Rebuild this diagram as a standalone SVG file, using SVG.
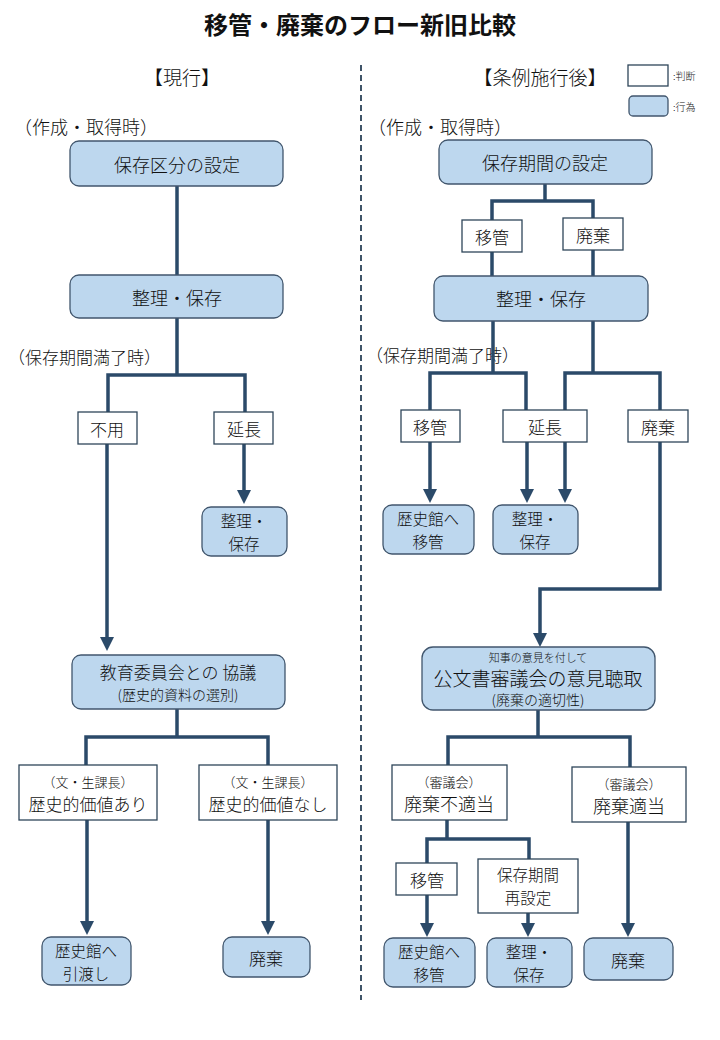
<svg xmlns="http://www.w3.org/2000/svg" width="720" height="1040" viewBox="0 0 720 1040">
<defs>
<style>
text{font-family:"Noto Sans CJK JP","Noto Sans CJK SC",sans-serif;font-weight:300;fill:#111;text-anchor:middle;dominant-baseline:central;font-size:17px}
.act{fill:#BDD7EE;stroke:#41566D;stroke-width:1.3}
.dec{fill:#fff;stroke:#2E4559;stroke-width:1.3}
.c{fill:none;stroke:#2B4A69;stroke-width:3.5;stroke-linejoin:miter}
.a{marker-end:url(#arr)}
.s{font-size:13px}
.t{font-size:15.5px}
.l{text-anchor:start}
</style>
<marker id="arr" markerUnits="userSpaceOnUse" markerWidth="14" markerHeight="14" viewBox="0 0 14 14" refX="1" refY="7" orient="auto">
<path d="M0,0 L14,7 L0,14 z" fill="#2B4A69"/>
</marker>
</defs>
<rect width="720" height="1040" fill="#fff"/>
<text x="360" y="23" style="font-size:24px;font-weight:bold">移管・廃棄のフロー新旧比較</text>
<line x1="361" y1="65" x2="361" y2="1000" stroke="#3F5468" stroke-width="2" stroke-dasharray="6,4"/>
<text x="182" y="76" style="font-size:19px">【現行】</text>
<text x="540" y="76" style="font-size:19px">【条例施行後】</text>
<g id="legend">
<rect x="628" y="65" width="40" height="21" class="dec"/>
<text x="673" y="75" class="l" style="font-size:10px">:判断</text>
<rect x="629" y="96" width="39" height="20" rx="4" class="act"/>
<text x="673" y="106" class="l" style="font-size:10px">:行為</text>
</g>
<text x="14" y="126" class="l" style="font-size:18px">（作成・取得時）</text>
<text x="368" y="126" class="l" style="font-size:18px">（作成・取得時）</text>
<text x="8" y="356" class="l" style="font-size:17px">（保存期間満了時）</text>
<text x="366" y="354" class="l" style="font-size:17px">（保存期間満了時）</text>
<g id="connectors">
<path class="c" d="M177,186 V275"/>
<path class="c" d="M177,318 V375"/>
<path class="c" d="M108,412 V375 H245 V412"/>
<path class="c a" d="M244,444 V491"/>
<path class="c a" d="M107,444 V638"/>
<path class="c" d="M177,709 V737"/>
<path class="c" d="M86,765 V737 H268 V765"/>
<path class="c a" d="M87,820 V922"/>
<path class="c a" d="M268,820 V922"/>
<path class="c" d="M545,184 V201"/>
<path class="c" d="M492,220 V201 H593 V218"/>
<path class="c" d="M492,252 V276"/>
<path class="c" d="M593,250 V276"/>
<path class="c" d="M493,321 V373"/>
<path class="c" d="M593,321 V373"/>
<path class="c" d="M430,410 V373 H526 V410"/>
<path class="c" d="M565,410 V373 H660 V410"/>
<path class="c a" d="M430,442 V490"/>
<path class="c a" d="M527,442 V490"/>
<path class="c a" d="M565,442 V490"/>
<path class="c a" d="M660,442 V589 H540 V634"/>
<path class="c" d="M538,710 V737"/>
<path class="c" d="M448,765 V737 H630 V767"/>
<path class="c" d="M447,820 V839"/>
<path class="c" d="M427,863 V839 H529 V859"/>
<path class="c a" d="M427,895 V924"/>
<path class="c a" d="M528,913 V924"/>
<path class="c a" d="M628,822 V924"/>
</g>
<g id="L1"><rect x="70" y="141" width="213" height="45" rx="9" class="act"/><text x="177" y="164" style="font-size:18px">保存区分の設定</text></g>
<g id="L2"><rect x="70" y="275" width="213" height="43" rx="9" class="act"/><text x="177" y="297" style="font-size:18px">整理・保存</text></g>
<g id="L3"><rect x="78" y="412" width="59" height="32" class="dec"/><text x="107" y="428">不用</text></g>
<g id="L4"><rect x="214" y="412" width="59" height="32" class="dec"/><text x="244" y="428">延長</text></g>
<g id="L5"><rect x="202" y="507" width="85" height="49" rx="9" class="act"/><text x="244" y="520" class="t">整理・</text><text x="244" y="543" class="t">保存</text></g>
<g id="L6"><rect x="72" y="655" width="213" height="54" rx="9" class="act"/><text x="178" y="671">教育委員会との 協議</text><text x="178" y="694" style="font-size:14px">(歴史的資料の選別)</text></g>
<g id="L7"><rect x="19" y="765" width="138" height="55" class="dec"/><text x="88" y="781" class="s">（文・生課長）</text><text x="88" y="803">歴史的価値あり</text></g>
<g id="L8"><rect x="199" y="765" width="138" height="55" class="dec"/><text x="268" y="781" class="s">（文・生課長）</text><text x="268" y="803">歴史的価値なし</text></g>
<g id="L9"><rect x="42" y="937" width="89" height="48" rx="9" class="act"/><text x="86" y="950" class="t">歴史館へ</text><text x="86" y="973" class="t">引渡し</text></g>
<g id="L10"><rect x="223" y="937" width="87" height="40" rx="9" class="act"/><text x="266" y="957">廃棄</text></g>
<g id="R1"><rect x="439" y="140" width="213" height="44" rx="9" class="act"/><text x="545" y="162" style="font-size:18px">保存期間の設定</text></g>
<g id="R2"><rect x="462" y="220" width="60" height="32" class="dec"/><text x="492" y="236">移管</text></g>
<g id="R3"><rect x="563" y="218" width="60" height="32" class="dec"/><text x="593" y="234">廃棄</text></g>
<g id="R4"><rect x="434" y="276" width="214" height="45" rx="9" class="act"/><text x="541" y="298" style="font-size:18px">整理・保存</text></g>
<g id="R5"><rect x="401" y="410" width="59" height="32" class="dec"/><text x="430" y="426">移管</text></g>
<g id="R6"><rect x="503" y="410" width="84" height="32" class="dec"/><text x="545" y="426">延長</text></g>
<g id="R7"><rect x="628" y="410" width="60" height="32" class="dec"/><text x="658" y="426">廃棄</text></g>
<g id="R8"><rect x="383" y="505" width="91" height="49" rx="9" class="act"/><text x="428" y="518" class="t">歴史館へ</text><text x="428" y="541" class="t">移管</text></g>
<g id="R9"><rect x="493" y="505" width="85" height="49" rx="9" class="act"/><text x="535" y="518" class="t">整理・</text><text x="535" y="541" class="t">保存</text></g>
<g id="R10"><rect x="422" y="647" width="233" height="63" rx="11" class="act"/><text x="538" y="657" style="font-size:11px">知事の意見を付して</text><text x="538" y="677" style="font-size:19px">公文書審議会の意見聴取</text><text x="538" y="699" style="font-size:14px">(廃棄の適切性)</text></g>
<g id="R11"><rect x="392" y="765" width="115" height="55" class="dec"/><text x="449" y="781" class="s">（審議会）</text><text x="449" y="803" style="font-size:18px">廃棄不適当</text></g>
<g id="R12"><rect x="572" y="767" width="114" height="55" class="dec"/><text x="629" y="783" class="s">（審議会）</text><text x="629" y="805" style="font-size:18px">廃棄適当</text></g>
<g id="R13"><rect x="396" y="863" width="61" height="32" class="dec"/><text x="427" y="879">移管</text></g>
<g id="R14"><rect x="478" y="859" width="100" height="54" class="dec"/><text x="528" y="874" class="t">保存期間</text><text x="528" y="897" class="t">再設定</text></g>
<g id="R15"><rect x="384" y="938" width="91" height="49" rx="9" class="act"/><text x="429" y="951" class="t">歴史館へ</text><text x="429" y="974" class="t">移管</text></g>
<g id="R16"><rect x="487" y="938" width="85" height="49" rx="9" class="act"/><text x="529" y="951" class="t">整理・</text><text x="529" y="974" class="t">保存</text></g>
<g id="R17"><rect x="584" y="938" width="89" height="42" rx="9" class="act"/><text x="628" y="959">廃棄</text></g>
</svg>
